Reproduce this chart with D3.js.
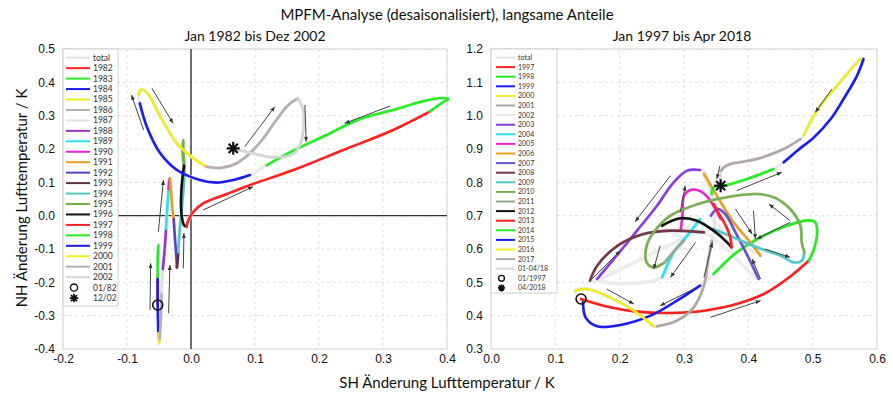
<!DOCTYPE html>
<html>
<head>
<meta charset="utf-8">
<script src="https://cdn.jsdelivr.net/npm/d3@7"></script>
<style>
  body { margin: 0; background: #fff; }
  svg { font-family: Lato, "Open Sans", sans-serif; }
  .tick text { font-size: 12px; fill: #111; }
  .leg text { fill: #333; }
</style>
</head>
<body>
<svg id="chart" width="893" height="395"></svg>
<script>
// ---- left panel: Jan 1982 bis Dez 2002 ----
var leftYears = ["1982","1983","1984","1985","1986","1987","1988","1989","1990","1991","1992",
                 "1993","1994","1995","1996","1997","1998","1999","2000","2001","2002"];
var leftColors = ["#ff2020","#22ee22","#1c1cee","#eeee22","#b8aeae","#e2e2e2","#9933cc","#22e4f2",
                  "#ee22cc","#e8a020","#5a3fc8","#603040","#50c8c0","#70b040","#111111",
                  "#ff2020","#22ee22","#1c1cee","#eeee22","#b8aeae","#d6d6d6"];
// SH (x) / NH (y) anomaly per year
var leftTracks = [
  [[-0.052,-0.268],[-0.052,-0.23],[-0.052,-0.185]],
  [[-0.052,-0.185],[-0.052,-0.14],[-0.051,-0.088],[-0.052,-0.13],[-0.052,-0.19]],
  [[-0.052,-0.19],[-0.052,-0.27],[-0.051,-0.353]],
  [[-0.051,-0.353],[-0.050,-0.383],[-0.049,-0.37]],
  [[-0.049,-0.37],[-0.047,-0.30],[-0.046,-0.23]],
  [[-0.046,-0.23],[-0.045,-0.19],[-0.044,-0.16]],
  [[-0.044,-0.16],[-0.042,-0.12],[-0.040,-0.07],[-0.039,-0.04]],
  [[-0.039,-0.04],[-0.038,0.0],[-0.036,0.05],[-0.035,0.08]],
  [[-0.035,0.08],[-0.034,0.105],[-0.033,0.112]],
  [[-0.033,0.112],[-0.031,0.07],[-0.029,0.02],[-0.027,-0.01]],
  [[-0.027,-0.01],[-0.025,-0.07],[-0.023,-0.12],[-0.022,-0.155]],
  [[-0.022,-0.155],[-0.021,-0.14],[-0.020,-0.11]],
  [[-0.020,-0.11],[-0.018,-0.05],[-0.014,0.03],[-0.011,0.10],[-0.010,0.147]],
  [[-0.010,0.147],[-0.012,0.19],[-0.012,0.227],[-0.013,0.19],[-0.011,0.15]],
  [[-0.011,0.15],[-0.015,0.077],[-0.015,0.007],[-0.011,-0.028],[-0.007,-0.033]],
  [[-0.007,-0.033],[-0.004,-0.013],[0.004,0.012],[0.019,0.037],[0.056,0.065],[0.097,0.095],
   [0.16,0.137],[0.238,0.197],[0.316,0.257],[0.373,0.312]],
  [[0.373,0.312],[0.392,0.338],[0.402,0.35],[0.392,0.353],[0.36,0.342],[0.316,0.317],
   [0.264,0.29],[0.212,0.242],[0.16,0.195],[0.118,0.151]],
  [[0.092,0.122],[0.066,0.107],[0.040,0.099],[0.014,0.107],[-0.022,0.137],[-0.048,0.187],
   [-0.069,0.267],[-0.08,0.337]],
  [[-0.082,0.362],[-0.077,0.379],[-0.066,0.362],[-0.048,0.297],[-0.022,0.217],[0.004,0.172],[0.024,0.147]],
  [[0.024,0.147],[0.045,0.143],[0.069,0.155],[0.089,0.182],[0.111,0.227],[0.131,0.281],
   [0.152,0.332],[0.167,0.352]],
  [[0.167,0.352],[0.175,0.32],[0.176,0.27],[0.172,0.22],[0.16,0.185],[0.13,0.175],[0.10,0.185],[0.066,0.202]]
];
var leftArrows = [
  [-0.074,0.257,-0.093,0.362],[-0.061,0.382,-0.028,0.277],[0.019,0.017,0.097,0.087],
  [0.084,0.207,0.131,0.327],[0.178,0.332,0.18,0.222],[0.311,0.329,0.24,0.277],
  [-0.051,-0.048,-0.043,0.107],[-0.012,-0.158,-0.011,-0.053],[-0.064,-0.283,-0.063,-0.143],
  [-0.035,-0.293,-0.033,-0.148]
];
var leftStart = [-0.052,-0.268], leftEnd = [0.066,0.202];
var leftMarks = ["01/82","12/02"];
var leftXTicks = [-0.2,-0.1,0.0,0.1,0.2,0.3,0.4];
var leftYTicks = [-0.4,-0.3,-0.2,-0.1,0.0,0.1,0.2,0.3,0.4,0.5];

// ---- right panel: Jan 1997 bis Apr 2018 ----
var rightYears = ["1997","1998","1999","2000","2001","2002","2003","2004","2005","2006","2007",
                  "2008","2009","2010","2011","2012","2013","2014","2015","2016","2017","01-04/18"];
var rightColors = ["#ff2020","#22ee22","#1c1cee","#eeee22","#b0a6a6","#e6e6e6","#8a3ce0","#22e4f2",
                   "#ee22cc","#e8a020","#6a50d0","#703848","#50c8c8","#78b050","#98a890","#111111",
                   "#ff2020","#22ee22","#1c1cee","#eeee22","#b0a6a6","#d8d8d8"];
var rightTracks = [
  [[0.140,0.45],[0.175,0.43],[0.227,0.412],[0.279,0.408],[0.331,0.415],[0.382,0.435],[0.424,0.465],[0.460,0.51],[0.494,0.565]],
  [[0.494,0.565],[0.502,0.60],[0.507,0.65],[0.504,0.68],[0.494,0.686],[0.46,0.67],[0.424,0.64],[0.382,0.59],[0.346,0.525]],
  [[0.325,0.49],[0.289,0.445],[0.248,0.40],[0.201,0.372],[0.165,0.368],[0.147,0.395],[0.143,0.44]],
  [[0.131,0.475],[0.149,0.48],[0.185,0.455],[0.222,0.415],[0.253,0.368]],
  [[0.258,0.368],[0.289,0.385],[0.315,0.425],[0.331,0.49],[0.338,0.57],[0.344,0.63]],
  [[0.344,0.63],[0.348,0.70],[0.342,0.78],[0.33,0.835]],
  [[0.325,0.837],[0.305,0.835],[0.284,0.80],[0.258,0.73],[0.227,0.655],[0.191,0.57],[0.165,0.51]],
  [[0.266,0.515],[0.284,0.59],[0.305,0.64],[0.325,0.69]],
  [[0.295,0.655],[0.298,0.71],[0.300,0.76],[0.312,0.778],[0.330,0.768],[0.346,0.73],[0.357,0.69]],
  [[0.331,0.825],[0.351,0.76],[0.377,0.68],[0.403,0.62],[0.419,0.58]],
  [[0.342,0.70],[0.352,0.72],[0.364,0.705],[0.38,0.65],[0.40,0.575],[0.416,0.51]],
  [[0.331,0.65],[0.279,0.655],[0.237,0.645],[0.197,0.61],[0.165,0.55],[0.154,0.505]],
  [[0.345,0.66],[0.377,0.635],[0.413,0.605],[0.45,0.58],[0.47,0.56],[0.483,0.565],[0.487,0.59]],
  [[0.487,0.59],[0.483,0.62],[0.481,0.67],[0.465,0.72],[0.44,0.755],[0.413,0.765],[0.38,0.76],
   [0.331,0.74],[0.279,0.70],[0.253,0.65],[0.242,0.61],[0.242,0.56],[0.253,0.545],[0.27,0.56]],
  [[0.27,0.56],[0.283,0.59],[0.30,0.625]],
  [[0.266,0.67],[0.294,0.692],[0.32,0.685],[0.346,0.655],[0.367,0.62],[0.374,0.605]],
  [[0.374,0.605],[0.372,0.635],[0.365,0.67],[0.356,0.70],[0.346,0.735]],
  [[0.343,0.765],[0.346,0.785],[0.362,0.79],[0.398,0.81],[0.439,0.84]],
  [[0.455,0.86],[0.476,0.895],[0.502,0.935],[0.528,0.99],[0.548,1.05],[0.569,1.12],[0.579,1.17]],
  [[0.574,1.17],[0.538,1.09],[0.512,1.03],[0.496,0.98],[0.486,0.94]],
  [[0.481,0.93],[0.455,0.90],[0.413,0.87],[0.372,0.855],[0.362,0.845],[0.356,0.83]],
  [[0.356,0.83],[0.357,0.79]]
];
var rightArrows = [
  [0.53,1.08,0.504,1.01],[0.356,0.85,0.351,0.81],[0.382,0.775,0.452,0.83],[0.279,0.82,0.224,0.682],
  [0.294,0.71,0.302,0.79],[0.331,0.515,0.344,0.62],[0.318,0.62,0.279,0.515],[0.263,0.61,0.253,0.54],
  [0.157,0.51,0.201,0.595],[0.18,0.48,0.222,0.435],[0.315,0.48,0.263,0.43],[0.341,0.395,0.419,0.445],
  [0.38,0.72,0.406,0.645],[0.408,0.715,0.411,0.63],[0.465,0.685,0.432,0.735],[0.465,0.68,0.413,0.63],
  [0.426,0.60,0.465,0.575],[0.419,0.51,0.406,0.57]
];
var rightStart = [0.140,0.45], rightEnd = [0.357,0.79];
var rightMarks = ["01/1997","04/2018"];
var rightXTicks = [0.0,0.1,0.2,0.3,0.4,0.5,0.6];
var rightYTicks = [0.3,0.4,0.5,0.6,0.7,0.8,0.9,1.0,1.1,1.2];

var svg = d3.select("#chart");

svg.append("defs").append("marker")
  .attr("id", "ah").attr("viewBox", "0 0 10 10")
  .attr("refX", 10).attr("refY", 5)
  .attr("markerWidth", 5).attr("markerHeight", 5)
  .attr("orient", "auto")
  .append("path").attr("d", "M0,1L10,5L0,9z").attr("fill", "#333");

var fmt = function(d) { return d3.format(".1f")(d).replace("\u2212", "-"); };

function asterisk(cx, cy, r) {
  var p = d3.path();
  for (var k = 0; k < 4; k++) {
    var a = k * Math.PI / 4;
    p.moveTo(cx - r * Math.cos(a), cy - r * Math.sin(a));
    p.lineTo(cx + r * Math.cos(a), cy + r * Math.sin(a));
  }
  return p.toString();
}

function panel(o) {
  var x = d3.scaleLinear().domain(o.xDom).range(o.xRange);
  var y = d3.scaleLinear().domain(o.yDom).range([349, 49]);
  var g = svg.append("g");

  // faint dashed grid + frame
  g.selectAll(".gx").data(o.xTicks).join("line")
    .attr("x1", d => x(d)).attr("x2", d => x(d)).attr("y1", 49).attr("y2", 349)
    .attr("stroke", "#e2e2e2").attr("stroke-dasharray", "3,3");
  g.selectAll(".gy").data(o.yTicks).join("line")
    .attr("x1", o.xRange[0]).attr("x2", o.xRange[1]).attr("y1", d => y(d)).attr("y2", d => y(d))
    .attr("stroke", "#e2e2e2").attr("stroke-dasharray", "3,3");
  g.append("rect").attr("x", o.xRange[0]).attr("y", 49)
    .attr("width", o.xRange[1] - o.xRange[0]).attr("height", 300)
    .attr("fill", "none").attr("stroke", "#d6d6d6");

  if (o.zeroLines) {
    g.append("line").attr("x1", x(0)).attr("x2", x(0)).attr("y1", 49).attr("y2", 349)
      .attr("stroke", "#333").attr("stroke-width", 1.4);
    g.append("line").attr("x1", o.xRange[0]).attr("x2", o.xRange[1]).attr("y1", y(0)).attr("y2", y(0))
      .attr("stroke", "#333").attr("stroke-width", 1.4);
  }

  var line = d3.line().x(d => x(d[0])).y(d => y(d[1])).curve(d3.curveCatmullRom.alpha(0.5));

  // whole trajectory in light grey, then each year on top
  g.append("path").attr("d", line(d3.merge(o.tracks)))
    .attr("fill", "none").attr("stroke", "#ececec").attr("stroke-width", 3.5);
  g.selectAll(".yr").data(o.tracks).join("path")
    .attr("d", d => line(d)).attr("fill", "none")
    .attr("stroke", (d, i) => o.colors[i]).attr("stroke-width", 2.6)
    .attr("stroke-linecap", "round");

  g.selectAll(".arr").data(o.arrows).join("line")
    .attr("x1", d => x(d[0])).attr("y1", d => y(d[1]))
    .attr("x2", d => x(d[2])).attr("y2", d => y(d[3]))
    .attr("stroke", "#444").attr("stroke-width", 1).attr("marker-end", "url(#ah)");

  g.append("circle").attr("cx", x(o.start[0])).attr("cy", y(o.start[1])).attr("r", 5)
    .attr("fill", "none").attr("stroke", "#111").attr("stroke-width", 1.6);
  g.append("path").attr("d", asterisk(x(o.end[0]), y(o.end[1]), 6.5))
    .attr("stroke", "#111").attr("stroke-width", 2.2);

  // axes
  var ax = g.append("g").attr("transform", "translate(0,349)")
    .call(d3.axisBottom(x).tickValues(o.xTicks).tickSize(0).tickPadding(5).tickFormat(fmt));
  ax.select(".domain").remove();
  var ay = g.append("g").attr("transform", "translate(" + o.xRange[0] + ",0)")
    .call(d3.axisLeft(y).tickValues(o.yTicks).tickSize(0).tickPadding(o.yPad).tickFormat(fmt));
  ay.select(".domain").remove();

  // legend
  var lg = g.append("g").attr("class", "leg");
  lg.append("rect").attr("x", o.leg.x).attr("y", 49).attr("width", o.leg.w).attr("height", o.leg.h)
    .attr("fill", "#fff").attr("stroke", "#d0d0d0");
  var labels = ["total"].concat(o.years, o.marks);
  var cols = ["#e2e2e2"].concat(o.colors);
  labels.forEach(function(t, i) {
    var yy = o.leg.y0 + i * o.leg.step;
    if (i < cols.length) {
      lg.append("line").attr("x1", o.leg.l0).attr("x2", o.leg.l1).attr("y1", yy).attr("y2", yy)
        .attr("stroke", cols[i]).attr("stroke-width", 2);
    } else if (t === o.marks[0]) {
      lg.append("circle").attr("cx", (o.leg.l0 + o.leg.l1) / 2 - 4).attr("cy", yy).attr("r", o.leg.fs * 0.42)
        .attr("fill", "none").attr("stroke", "#111").attr("stroke-width", 1.4);
    } else {
      lg.append("path").attr("d", asterisk((o.leg.l0 + o.leg.l1) / 2 - 4, yy, o.leg.fs * 0.5))
        .attr("stroke", "#111").attr("stroke-width", 1.8);
    }
    lg.append("text").attr("x", o.leg.tx).attr("y", yy).attr("dy", "0.35em")
      .attr("font-size", o.leg.fs).text(t);
  });

  g.append("text").attr("x", o.titleX).attr("y", 41).attr("text-anchor", "middle")
    .attr("font-size", 14).attr("fill", "#111").text(o.title);
}

panel({
  xDom: [-0.2, 0.4], xRange: [63, 447], yDom: [-0.4, 0.5], yPad: 8,
  xTicks: leftXTicks, yTicks: leftYTicks, zeroLines: true,
  years: leftYears, colors: leftColors, tracks: leftTracks, arrows: leftArrows,
  start: leftStart, end: leftEnd, marks: leftMarks,
  leg: { x: 63, w: 55, h: 257, y0: 57.7, step: 10.45, l0: 66, l1: 90, tx: 93, fs: 8.5 },
  title: "Jan 1982 bis Dez 2002", titleX: 255
});
panel({
  xDom: [0, 0.6], xRange: [491, 877], yDom: [0.3, 1.2], yPad: 8,
  xTicks: rightXTicks, yTicks: rightYTicks, zeroLines: false,
  years: rightYears, colors: rightColors, tracks: rightTracks, arrows: rightArrows,
  start: rightStart, end: rightEnd, marks: rightMarks,
  leg: { x: 491, w: 66, h: 244, y0: 57.5, step: 9.6, l0: 496, l1: 515, tx: 518, fs: 7 },
  title: "Jan 1997 bis Apr 2018", titleX: 682
});

svg.append("text").attr("x", 447).attr("y", 20).attr("text-anchor", "middle")
  .attr("font-size", 15).attr("fill", "#111")
  .text("MPFM-Analyse (desaisonalisiert), langsame Anteile");
svg.append("text").attr("x", 447).attr("y", 388).attr("text-anchor", "middle")
  .attr("font-size", 15).attr("fill", "#111").text("SH Änderung Lufttemperatur / K");
svg.append("text").attr("transform", "translate(27,198) rotate(-90)").attr("text-anchor", "middle")
  .attr("font-size", 15).attr("fill", "#111").text("NH Änderung Lufttemperatur / K");
</script>
</body>
</html>
